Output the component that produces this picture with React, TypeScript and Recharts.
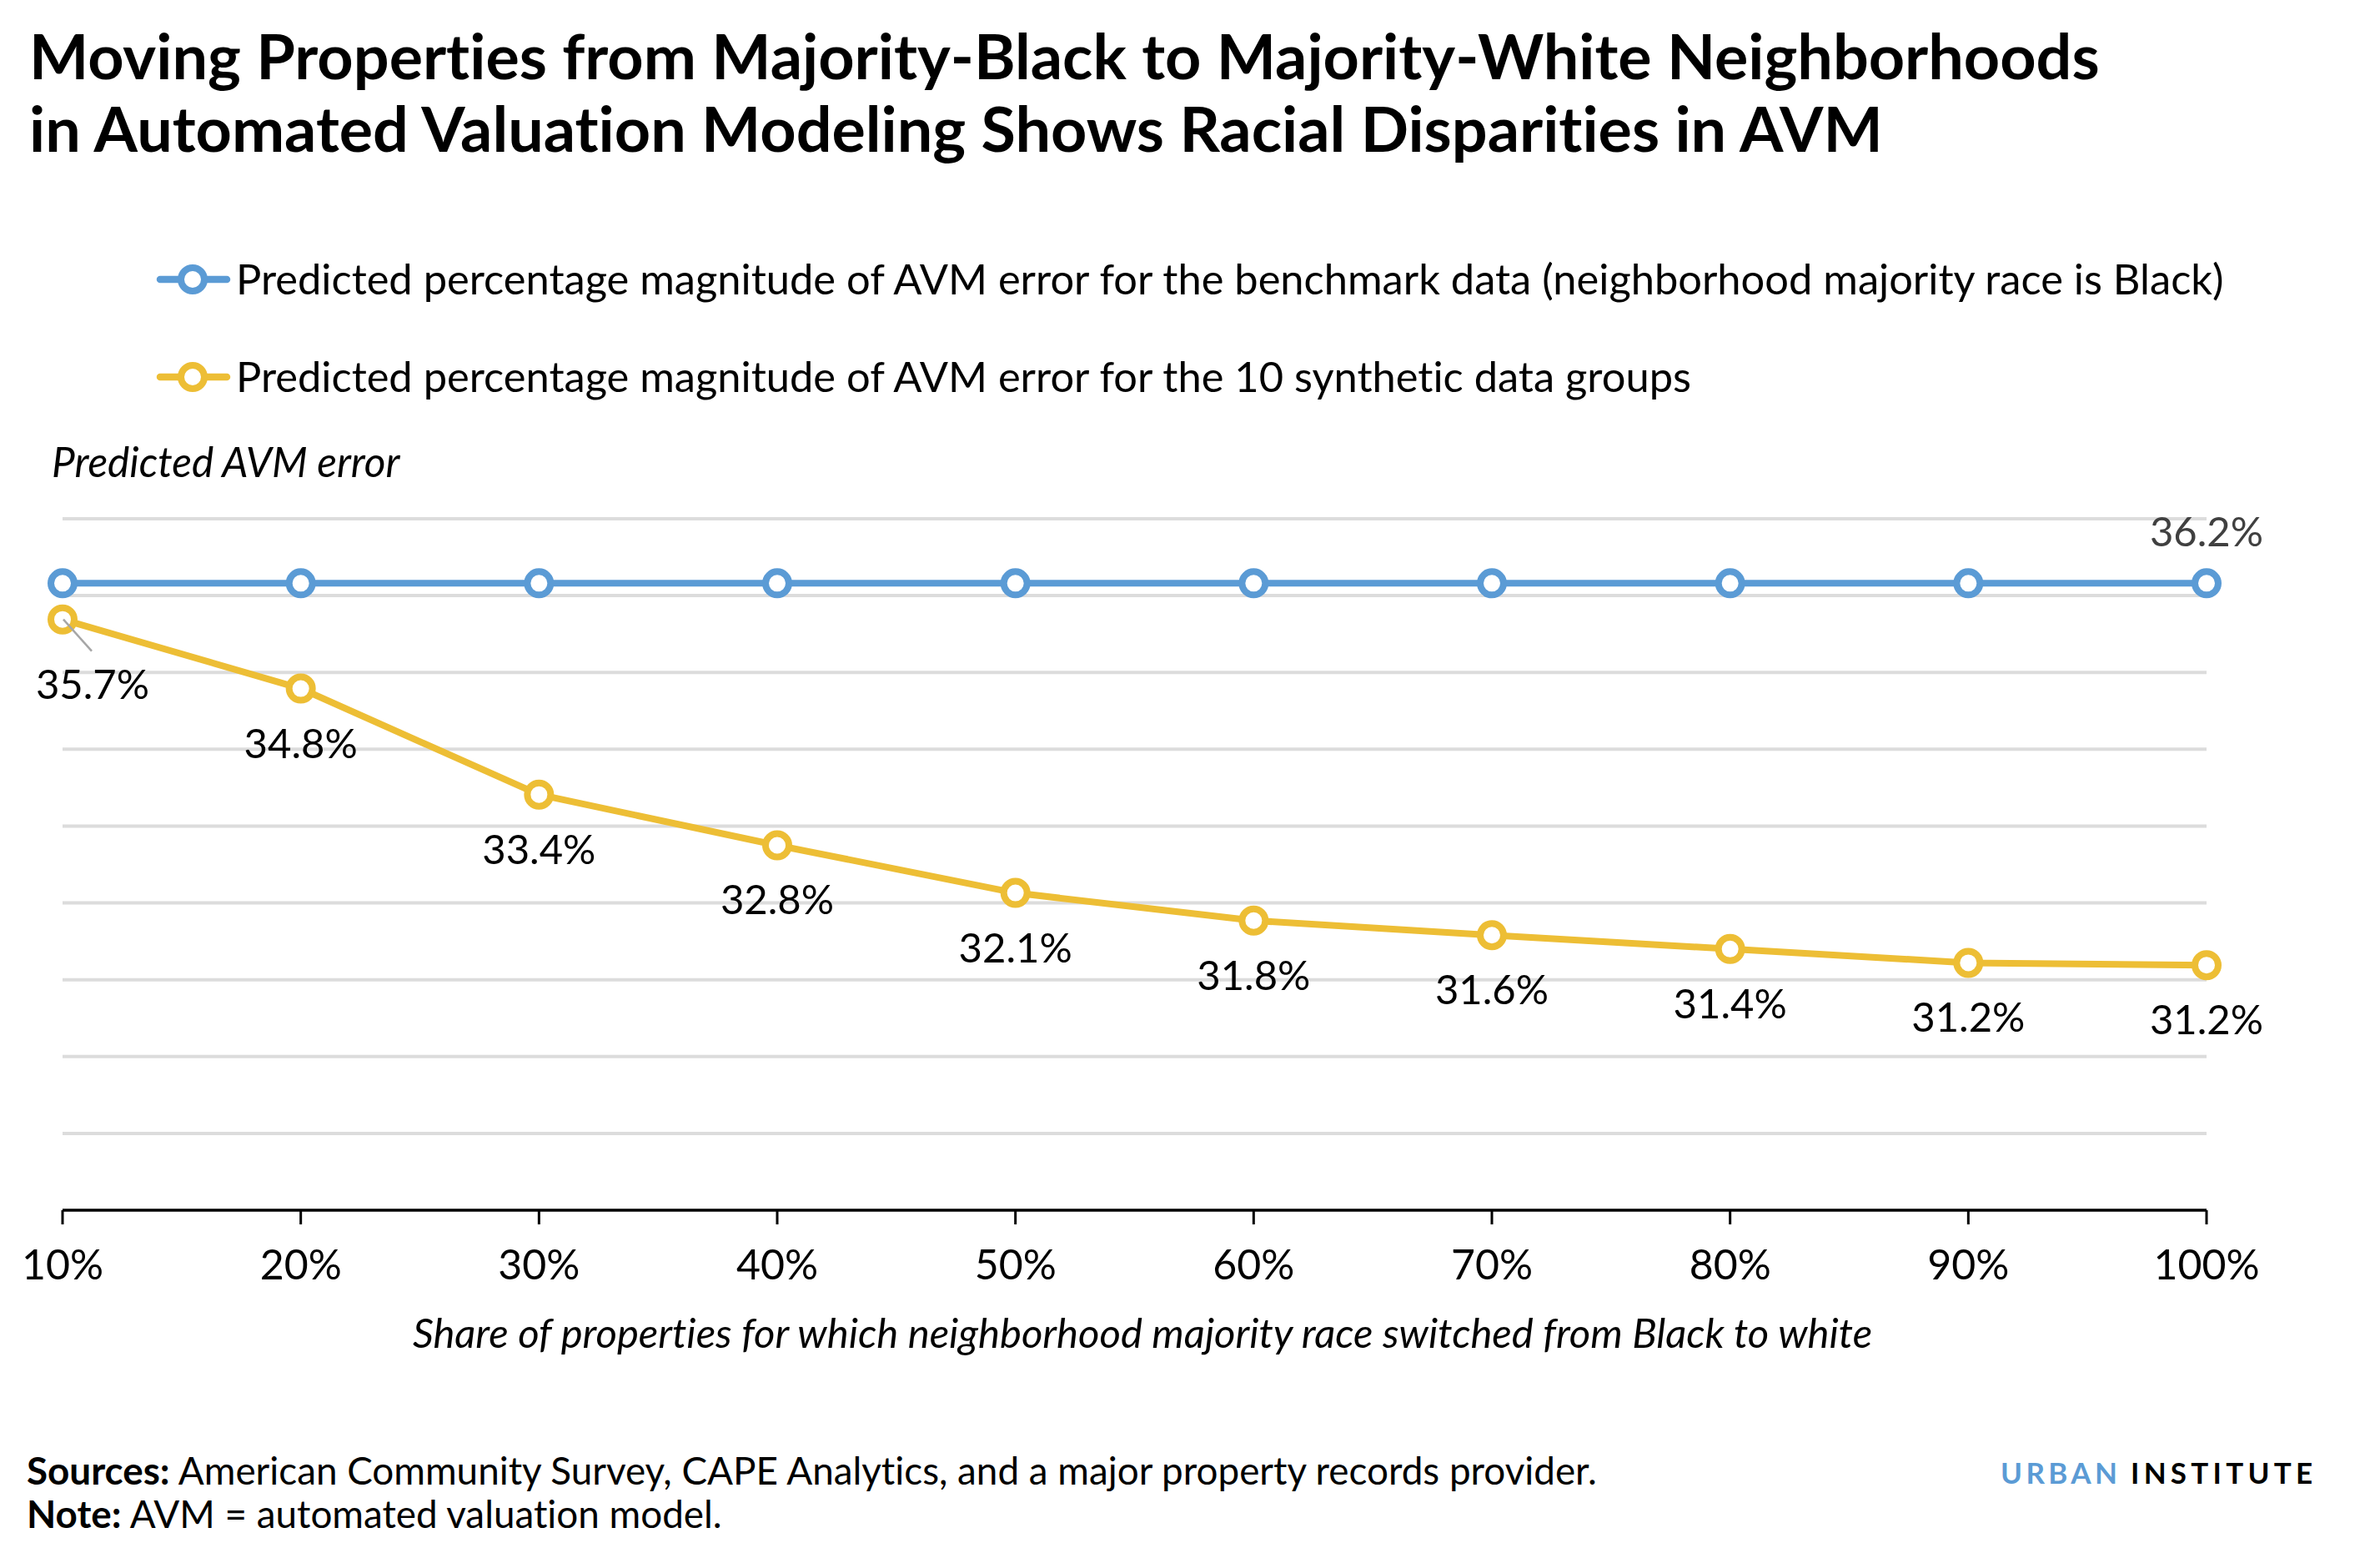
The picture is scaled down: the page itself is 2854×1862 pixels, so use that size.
import { LineChart, Line, XAxis, YAxis, ReferenceLine, LabelList } from 'recharts';

const shares = ['10%', '20%', '30%', '40%', '50%', '60%', '70%', '80%', '90%', '100%'];
const benchmark = [36.16, 36.16, 36.16, 36.16, 36.16, 36.16, 36.16, 36.16, 36.16, 36.16];
const synthetic = [35.69, 34.79, 33.41, 32.75, 32.13, 31.77, 31.58, 31.4, 31.22, 31.19];
const yTicks = [28, 29, 30, 31, 32, 33, 34, 35, 36, 37];

const BLUE = '#5B9BD5';
const YELLOW = '#EDBE35';
const FONT = 'Lato, "Noto Sans", sans-serif';

const legendItems = [
  { color: BLUE, label: 'Predicted percentage magnitude of AVM error for the benchmark data (neighborhood majority race is Black)' },
  { color: YELLOW, label: 'Predicted percentage magnitude of AVM error for the 10 synthetic data groups' },
];

const rows = shares.map((share, i) => ({
  share,
  benchmark: benchmark[i],
  synthetic: synthetic[i],
}));

const W = 2854;
const H = 1862;

const fmt = (v: number) => `${v.toFixed(1)}%`;

function XTick(props: any) {
  const { x, y, payload } = props;
  return (
    <text x={x} y={y} dy={64} textAnchor="middle" fontSize={50} fontFamily={FONT} fill="#000">
      {payload.value}
    </text>
  );
}

function SynLabel(props: any) {
  const { x, y, value, index } = props;
  if (index === 0) {
    return (
      <g>
        <line x1={x + 1} y1={y} x2={x + 35} y2={y + 38} stroke="#a6a6a6" strokeWidth={2.5} />
        <text x={x + 36} y={y + 95} textAnchor="middle" fontSize={49} fontFamily={FONT} fill="#000">
          {fmt(value)}
        </text>
      </g>
    );
  }
  return (
    <text x={x} y={y + 83} textAnchor="middle" fontSize={49} fontFamily={FONT} fill="#000">
      {fmt(value)}
    </text>
  );
}

function BenchLabel(props: any) {
  const { x, y, value, index } = props;
  if (index !== shares.length - 1) return null;
  return (
    <text x={x} y={y - 44} textAnchor="middle" fontSize={49} fontFamily={FONT} fill="#404040">
      {fmt(value)}
    </text>
  );
}

export default function App() {
  return (
    <div
      style={{
        position: 'absolute',
        left: 0,
        top: 0,
        width: W,
        height: H,
        background: '#fff',
        fontVariantLigatures: 'none',
        fontFeatureSettings: '"liga" 0',
      }}
    >
      <LineChart width={W} height={H} data={rows} margin={{ top: 622, right: 208, bottom: 311, left: 75 }}>
        {/* horizontal gridlines, one per y tick above the axis */}
        {yTicks.slice(1).map((t) => (
          <ReferenceLine key={t} y={t} stroke="#dcdcdc" strokeWidth={4} zIndex={-100} />
        ))}
        <XAxis
          dataKey="share"
          height={100}
          interval={0}
          tickSize={17}
          axisLine={{ stroke: '#000', strokeWidth: 3.5 }}
          tickLine={{ stroke: '#000', strokeWidth: 3 }}
          tick={<XTick />}
        />
        <YAxis
          type="number"
          domain={[28, 37]}
          ticks={yTicks}
          interval={0}
          width={0}
          axisLine={false}
          tickLine={false}
          tick={false}
        />
        <Line
          type="linear"
          dataKey="benchmark"
          stroke={BLUE}
          strokeWidth={8}
          dot={{ r: 14, strokeWidth: 8, fill: '#fff', stroke: BLUE }}
          activeDot={false}
          isAnimationActive={false}
        >
          <LabelList dataKey="benchmark" content={<BenchLabel />} />
        </Line>
        <Line
          type="linear"
          dataKey="synthetic"
          stroke={YELLOW}
          strokeWidth={8}
          dot={{ r: 14, strokeWidth: 8, fill: '#fff', stroke: YELLOW }}
          activeDot={false}
          isAnimationActive={false}
        >
          <LabelList dataKey="synthetic" content={<SynLabel />} />
        </Line>
      </LineChart>

      <svg width={W} height={H} style={{ position: 'absolute', left: 0, top: 0, pointerEvents: 'none' }} fontFamily={FONT}>
        <text x={35} y={95} fontSize={75.5} fontWeight={700} fill="#000">
          Moving Properties from Majority-Black to Majority-White Neighborhoods
        </text>
        <text x={35} y={182} fontSize={75.5} fontWeight={700} fill="#000">
          in Automated Valuation Modeling Shows Racial Disparities in AVM
        </text>

        {legendItems.map((item, i) => {
          const cy = 335 + i * 117;
          return (
            <g key={item.label}>
              <line x1={192} y1={cy} x2={272} y2={cy} stroke={item.color} strokeWidth={8.5} strokeLinecap="round" />
              <circle cx={231} cy={cy} r={14} fill="#fff" stroke={item.color} strokeWidth={8} />
              <text x={283} y={cy + 18} fontSize={50.6} fill="#000">
                {item.label}
              </text>
            </g>
          );
        })}

        <text x={62} y={572} fontSize={49.5} fontStyle="italic" fill="#000">
          Predicted AVM error
        </text>

        <text x={1370} y={1616} fontSize={49} fontStyle="italic" textAnchor="middle" fill="#000">
          Share of properties for which neighborhood majority race switched from Black to white
        </text>

        <text x={32} y={1780} fontSize={45.8} fill="#000">
          <tspan fontWeight={700}>Sources:</tspan> American Community Survey, CAPE Analytics, and a major property records provider.
        </text>
        <text x={32} y={1832} fontSize={45.8} fill="#000">
          <tspan fontWeight={700}>Note:</tspan> AVM = automated valuation model.
        </text>

        <text x={2399} y={1779} fontSize={35} fontWeight={700} textLength={140} lengthAdjust="spacing" fill={BLUE}>
          URBAN
        </text>
        <text x={2555} y={1779} fontSize={35} fontWeight={700} textLength={218} lengthAdjust="spacing" fill="#000">
          INSTITUTE
        </text>
      </svg>
    </div>
  );
}
